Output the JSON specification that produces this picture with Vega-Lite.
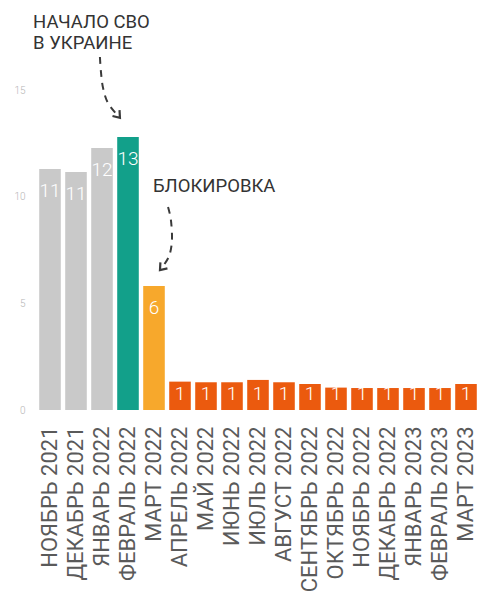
{
  "$schema": "https://vega.github.io/schema/vega-lite/v6.json",
  "width": 442,
  "height": 410,
  "autosize": {"type": "none"},
  "padding": {"left": 37, "top": 0, "right": 0, "bottom": 188},
  "background": "white",
  "config": {
    "view": {"stroke": null},
    "font": "Roboto",
    "scale": {"bandPaddingInner": 0.17, "bandPaddingOuter": 0.085}
  },
  "resolve": {"scale": {"x": "independent"}},
  "layer": [
    {
      "data": {
        "values": [
          {"month": "НОЯБРЬ 2021", "value": 11.3, "group": "before"},
          {"month": "ДЕКАБРЬ 2021", "value": 11.16, "group": "before"},
          {"month": "ЯНВАРЬ 2022", "value": 12.28, "group": "before"},
          {"month": "ФЕВРАЛЬ 2022", "value": 12.8, "group": "feb"},
          {"month": "МАРТ 2022", "value": 5.81, "group": "mar"},
          {"month": "АПРЕЛЬ 2022", "value": 1.33, "group": "after"},
          {"month": "МАЙ 2022", "value": 1.3, "group": "after"},
          {"month": "ИЮНЬ 2022", "value": 1.3, "group": "after"},
          {"month": "ИЮЛЬ 2022", "value": 1.41, "group": "after"},
          {"month": "АВГУСТ 2022", "value": 1.3, "group": "after"},
          {"month": "СЕНТЯБРЬ 2022", "value": 1.22, "group": "after"},
          {"month": "ОКТЯБРЬ 2022", "value": 1.05, "group": "after"},
          {"month": "НОЯБРЬ 2022", "value": 1.03, "group": "after"},
          {"month": "ДЕКАБРЬ 2022", "value": 1.03, "group": "after"},
          {"month": "ЯНВАРЬ 2023", "value": 1.03, "group": "after"},
          {"month": "ФЕВРАЛЬ 2023", "value": 1.03, "group": "after"},
          {"month": "МАРТ 2023", "value": 1.22, "group": "after"}
        ]
      },
      "layer": [
        {
          "mark": {"type": "bar"},
          "encoding": {
            "x": {
              "field": "month", "type": "ordinal", "sort": null, "title": null,
              "axis": {"labelAngle": -90, "labelFontSize": 22, "labelColor": "#5a5a5a", "labelPadding": 16, "ticks": false, "domain": false, "labelFont": "Roboto", "labelFontWeight": 400}
            },
            "y": {
              "field": "value", "type": "quantitative", "title": null,
              "scale": {"domain": [0, 19.22], "nice": false},
              "axis": {"values": [0, 5, 10, 15], "ticks": false, "domain": false, "grid": false, "labelFontSize": 10, "labelColor": "#b5b5b5", "labelPadding": 12, "labelFontWeight": 300}
            },
            "color": {
              "field": "group", "type": "nominal", "legend": null,
              "scale": {"domain": ["before", "feb", "mar", "after"], "range": ["#c9c9c9", "#12a08a", "#f7a82c", "#eb5a0e"]}
            }
          }
        },
        {
          "transform": [{"filter": "datum.value > 3"}],
          "mark": {"type": "text", "baseline": "top", "dy": 13, "color": "white", "fontSize": 19, "fontWeight": 300},
          "encoding": {
            "x": {"field": "month", "type": "ordinal", "sort": null},
            "y": {"field": "value", "type": "quantitative", "title": null},
            "text": {"field": "value", "type": "quantitative", "format": ".0f"}
          }
        },
        {
          "transform": [{"filter": "datum.value <= 3"}],
          "mark": {"type": "text", "baseline": "alphabetic", "dy": -10, "color": "white", "fontSize": 19, "fontWeight": 300},
          "encoding": {
            "x": {"field": "month", "type": "ordinal", "sort": null},
            "y": {"datum": 0, "type": "quantitative", "title": null},
            "text": {"field": "value", "type": "quantitative", "format": ".0f"}
          }
        }
      ]
    },
    {
      "layer": [
        {
          "data": {
            "values": [
              {"arrow": "a", "i": 0, "x": 2.42, "y": 16.55},
              {"arrow": "a", "i": 1, "x": 2.46, "y": 15.85},
              {"arrow": "a", "i": 2, "x": 2.54, "y": 15.1},
              {"arrow": "a", "i": 3, "x": 2.73, "y": 14.39},
              {"arrow": "a", "i": 4, "x": 3.15, "y": 13.74},
              {"arrow": "b", "i": 0, "x": 5.04, "y": 9.52},
              {"arrow": "b", "i": 1, "x": 5.15, "y": 8.91},
              {"arrow": "b", "i": 2, "x": 5.19, "y": 7.97},
              {"arrow": "b", "i": 3, "x": 5.08, "y": 7.22},
              {"arrow": "b", "i": 4, "x": 4.77, "y": 6.61}
            ]
          },
          "mark": {"type": "line", "color": "#3a3a3a", "strokeWidth": 2, "strokeDash": [7, 6], "interpolate": "cardinal", "clip": false},
          "encoding": {
            "x": {"field": "x", "type": "quantitative", "scale": {"domain": [0, 17], "nice": false, "zero": false}, "axis": null},
            "y": {"field": "y", "type": "quantitative", "title": null},
            "detail": {"field": "arrow"},
            "order": {"field": "i", "type": "quantitative"}
          }
        },
        {
          "data": {
            "values": [
              {"x": 3.19, "y": 13.7, "angle": -40},
              {"x": 4.73, "y": 6.56, "angle": 40}
            ]
          },
          "mark": {"type": "point", "shape": "M -0.75 -1 L 0 0 L 0.75 -1", "filled": false, "stroke": "#3a3a3a", "strokeWidth": 2.2, "size": 150, "opacity": 1, "clip": false},
          "encoding": {
            "x": {"field": "x", "type": "quantitative", "scale": {"domain": [0, 17], "nice": false, "zero": false}, "axis": null},
            "y": {"field": "y", "type": "quantitative", "title": null},
            "angle": {"field": "angle", "type": "quantitative", "scale": null}
          }
        },
        {
          "data": {
            "values": [
              {"x": -0.15, "y": 18.17, "label": "НАЧАЛО СВО"},
              {"x": -0.15, "y": 17.2, "label": "В УКРАИНЕ"},
              {"x": 4.46, "y": 10.48, "label": "БЛОКИРОВКА"}
            ]
          },
          "mark": {"type": "text", "align": "left", "baseline": "middle", "fontSize": 18.5, "color": "#333333", "clip": false},
          "encoding": {
            "x": {"field": "x", "type": "quantitative", "scale": {"domain": [0, 17], "nice": false, "zero": false}, "axis": null},
            "y": {"field": "y", "type": "quantitative", "title": null},
            "text": {"field": "label"}
          }
        }
      ]
    }
  ]
}
